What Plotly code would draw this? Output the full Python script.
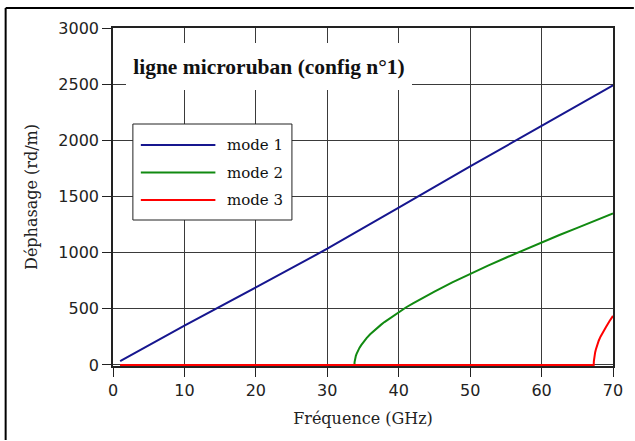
import plotly.graph_objects as go

# ---- data ----
freq1 = [1, 10, 20, 30, 40, 50, 60, 70]
phase1 = [35, 350, 690, 1035, 1400, 1768, 2128, 2490]

freq2 = [1, 33.8, 33.82, 33.85, 33.9, 34, 34.1, 34.25, 34.5, 34.75, 35, 35.5, 36, 36.5, 37, 37.5, 38,
         39, 40, 41, 42, 43.5, 45, 47.5, 50, 52.5, 55, 57.5, 60, 62.5, 65, 67.5, 70]
phase2 = [0, 0, 26, 40, 57, 81, 99, 122, 152, 177, 200, 239, 273, 303, 331, 357, 382,
          428, 472, 512, 549, 602, 654, 735, 812, 885, 955, 1024, 1091, 1157, 1221, 1285, 1349]

freq3 = [1, 67.3, 67.32, 67.35, 67.4, 67.5, 67.6, 67.75, 67.9, 68, 68.25, 68.5, 68.75, 69, 69.5, 70]
phase3 = [0, 0, 34, 53, 78, 112, 138, 172, 200, 216, 252, 284, 312, 335, 390, 437]

names = ["mode 1", "mode 2", "mode 3"]
colors = ["#16168f", "#118a11", "#ff0000"]

x_ticks = [0, 10, 20, 30, 40, 50, 60, 70]
y_ticks = [0, 500, 1000, 1500, 2000, 2500, 3000]

title_text = "ligne microruban (config n°1)"
x_title = "Fréquence (GHz)"
y_title = "Déphasage (rd/m)"

# ---- layout geometry ----
W, H = 635, 441
L, R, T, B = 113, 19, 28, 75
PW, PH = W - L - R, H - T - B


def px(x):
    return (x - L) / PW


def py(y):
    return (H - B - y) / PH


fig = go.Figure()
for xs, ys, n, c in zip([freq1, freq2, freq3], [phase1, phase2, phase3], names, colors):
    fig.add_trace(go.Scatter(x=xs, y=ys, mode="lines", name=n,
                             line=dict(color=c, width=2),
                             showlegend=False))

axis_common = dict(
    showgrid=True, gridcolor="#3a3a3a", gridwidth=1,
    showline=True, linecolor="#222", linewidth=1.5, mirror=True,
    ticks="outside", ticklen=9, tickcolor="#222", tickwidth=1,
    tickfont=dict(family="DejaVu Sans", size=16, color="#222"),
    zeroline=False, layer="below traces",
)

fig.update_layout(
    width=W, height=H,
    margin=dict(l=L, r=R, t=T, b=B, pad=0),
    paper_bgcolor="white", plot_bgcolor="white",
    xaxis=dict(range=[0, 70], tickvals=x_ticks,
               title=dict(text=x_title, font=dict(family="DejaVu Serif", size=16, color="#222"), standoff=14),
               **axis_common),
    yaxis=dict(range=[-9, 3000], tickvals=y_ticks,
               title=dict(text=y_title, font=dict(family="DejaVu Serif", size=16, color="#222"), standoff=17),
               **axis_common),
    showlegend=False,
)

shapes = []
# outer frame (top and left edges)
shapes.append(dict(type="line", xref="paper", yref="paper", x0=px(5), x1=px(W + 2), y0=py(8), y1=py(8),
                   line=dict(color="black", width=2)))
shapes.append(dict(type="line", xref="paper", yref="paper", x0=px(5), x1=px(5), y0=py(8), y1=py(440),
                   line=dict(color="black", width=2)))
# legend box
shapes.append(dict(type="rect", xref="paper", yref="paper", x0=px(133), x1=px(293), y0=py(220), y1=py(124),
                   fillcolor="white", line=dict(color="#222", width=1), layer="above"))
legend_y = [145, 172.5, 200]
annotations = []
for n, c, yy in zip(names, colors, legend_y):
    shapes.append(dict(type="line", xref="paper", yref="paper", x0=px(141), x1=px(216), y0=py(yy), y1=py(yy),
                       line=dict(color=c, width=2), layer="above"))
    annotations.append(dict(xref="paper", yref="paper", x=px(226), y=py(yy), xanchor="left", yanchor="middle",
                            text=n, showarrow=False, font=dict(family="DejaVu Serif", size=15, color="#111")))

# title box
annotations.append(dict(xref="paper", yref="paper", x=px(270), y=py(66.5), xanchor="center", yanchor="middle",
                        text="<b>" + title_text + "</b>", showarrow=False, bgcolor="white",
                        width=286, height=47, borderpad=0, borderwidth=0,
                        font=dict(family="Liberation Serif", size=21.5, color="#111")))

fig.update_layout(shapes=shapes, annotations=annotations)
fig.write_html("out.html", config={"displayModeBar": False},
               post_script="document.body.style.margin='0px';document.body.style.overflow='hidden';")
